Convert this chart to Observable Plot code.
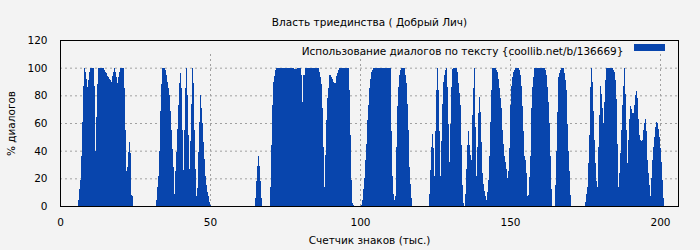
<!DOCTYPE html>
<html>
<head>
<meta charset="utf-8">
<script src="https://cdn.jsdelivr.net/npm/d3@7"></script>
<script src="https://cdn.jsdelivr.net/npm/@observablehq/plot@0.6"></script>
<style>
  html, body { margin: 0; padding: 0; background: #f3f3f3; }
  #chart { width: 700px; height: 250px; }
</style>
</head>
<body>
<div id="chart"></div>
<script>
const title = "Власть триединства ( Добрый Лич)";
const legendLabel = "Использование диалогов по тексту {coollib.net/b/136669}";
const xLabel = "Счетчик знаков (тыс.)";
const yLabel = "% диалогов";
const xTicks = [0, 50, 100, 150, 200];
const yTicks = [0, 20, 40, 60, 80, 100, 120];

// one sample every 1/3 thousand characters
const step = 1 / 3;
// first sample index of each run of text containing dialogue
const segStart = [18, 96, 195, 210, 301, 369, 405, 495, 525];
// dialogue share (%) per sample, run by run
const seg1 = [4,12,19,36,61,87,100,97,92,86,91,97,100,100,100,100,87,40,64,88,100,100,100,100,100,100,98,97,96,94,93,92,91,90,94,97,100,97,93,89,93,97,100,100,100,100,85,55,25,28,39,46,38,8,7];
const seg2 = [4,14,22,40,69,88,100,100,100,98,95,90,85,80,69,55,41,28,9,25,39,56,73,89,96,85,55,26,55,85,100,80,51,27,47,74,100,89,55,27,7,13,39,61,80,71,60,46,34,22,15,10,7,3,1];
const seg3 = [6,18,29,36,29,18,6];
const seg4 = [14,44,73,90,94,98,100,100,100,100,100,100,100,100,100,100,100,100,100,100,100,100,100,100,99,99,99,100,100,100,100,95,75,95,95,100,100,100,100,100,100,100,100,100,100,100,100,100,100,97,93,88,71,43,14,37,62,78,85,95,95,93,92,90,89,89,94,96,98,100,100,100,100,100,100,100,100,100,100,84,51,19,2,1];
const seg5 = [1,4,12,20,33,45,62,73,85,92,97,98,100,100,100,100,100,100,100,100,100,100,100,100,100,100,100,100,100,100,54,22,9,4,7,43,72,86,95,98,100,100,100,100,95,89,74,55,28,16,6];
const seg6 = [9,26,43,52,42,22,54,84,100,84,54,22,47,74,90,95,98,100,86,59,32,59,86,99,100,100,100,100,97,89,82,73,44,15,2];
const seg7 = [9,27,44,54,44,37,33,66,85,100,57,22,43,67,79,68,46,24,16,11,7,4,10,19,36,61,84,100,100,100,100,98,97,92,85,78,71,55,45,36,32,27,20,25,42,73,87,93,97,98,100,100,100,100,98,95,87,72,54,36,33,24,7,8,21,36,71,86,93,100,100,100,100,100,100,100,100,100,100,100,98,95,86,75,60,36,12];
const seg8 = [15,40,68,93,96,98,100,100,100,96,91,84,59,40,25,8];
const seg9 = [3,9,14,31,51,86,100,90,69,48,31,18,14,43,66,87,81,71,60,75,91,100,100,100,100,100,100,100,98,97,91,77,45,14,24,38,55,73,87,100,81,55,31,48,63,72,70,67,67,73,80,83,78,63,51,48,47,48,55,60,63,54,33,24,15,7,20,33,43,50,57,61,60,56,50,42,32,19,6];

const segValues = [seg1, seg2, seg3, seg4, seg5, seg6, seg7, seg8, seg9];
const data = [];
segValues.forEach((vals, s) => {
  vals.forEach((v, j) => {
    const x = (segStart[s] + j) * step;
    data.push({x1: x, x2: x + step, v});
  });
});

const barColor = "#0845ad";
const gridStyle = {stroke: "#a0a0a0", strokeOpacity: 1, strokeDasharray: "2,3"};
const fs = 10.5;

const chart = Plot.plot({
  width: 700,
  height: 250,
  marginLeft: 60,
  marginRight: 22,
  marginTop: 40,
  marginBottom: 44,
  style: {background: "#f3f3f3", fontFamily: "DejaVu Sans", fontSize: fs + "px", color: "#000"},
  x: {domain: [0, 206]},
  y: {domain: [0, 120]},
  marks: [
    Plot.gridY(yTicks.filter(t => t > 0 && t < 120), gridStyle),
    Plot.ruleX(xTicks.filter(t => t > 0), {y1: 0, y2: 111, ...gridStyle}),
    Plot.rectY(data, {x1: "x1", x2: "x2", y: "v", fill: barColor, inset: 0, shapeRendering: "crispEdges"}),
    Plot.frame({stroke: "#000", strokeWidth: 1}),
    Plot.axisY({ticks: yTicks, tickSize: 0, tickPadding: 13, fontSize: fs, label: yLabel, labelAnchor: "center", labelOffset: 53, labelArrow: "none"}),
    Plot.axisX({ticks: xTicks, tickSize: 0, tickPadding: 12, fontSize: fs, label: xLabel, labelAnchor: "center", labelOffset: 37, labelArrow: "none"}),
    Plot.text([title], {frameAnchor: "top", dy: -22, fontSize: fs}),
    Plot.text([legendLabel], {frameAnchor: "top-right", dx: -55, dy: 7, textAnchor: "end", fontSize: fs})
  ]
});

const svg = d3.select(chart);
svg.append("rect")
  .attr("x", 634).attr("y", 44).attr("width", 31).attr("height", 7)
  .attr("fill", barColor);

document.getElementById("chart").appendChild(chart);
</script>
</body>
</html>
